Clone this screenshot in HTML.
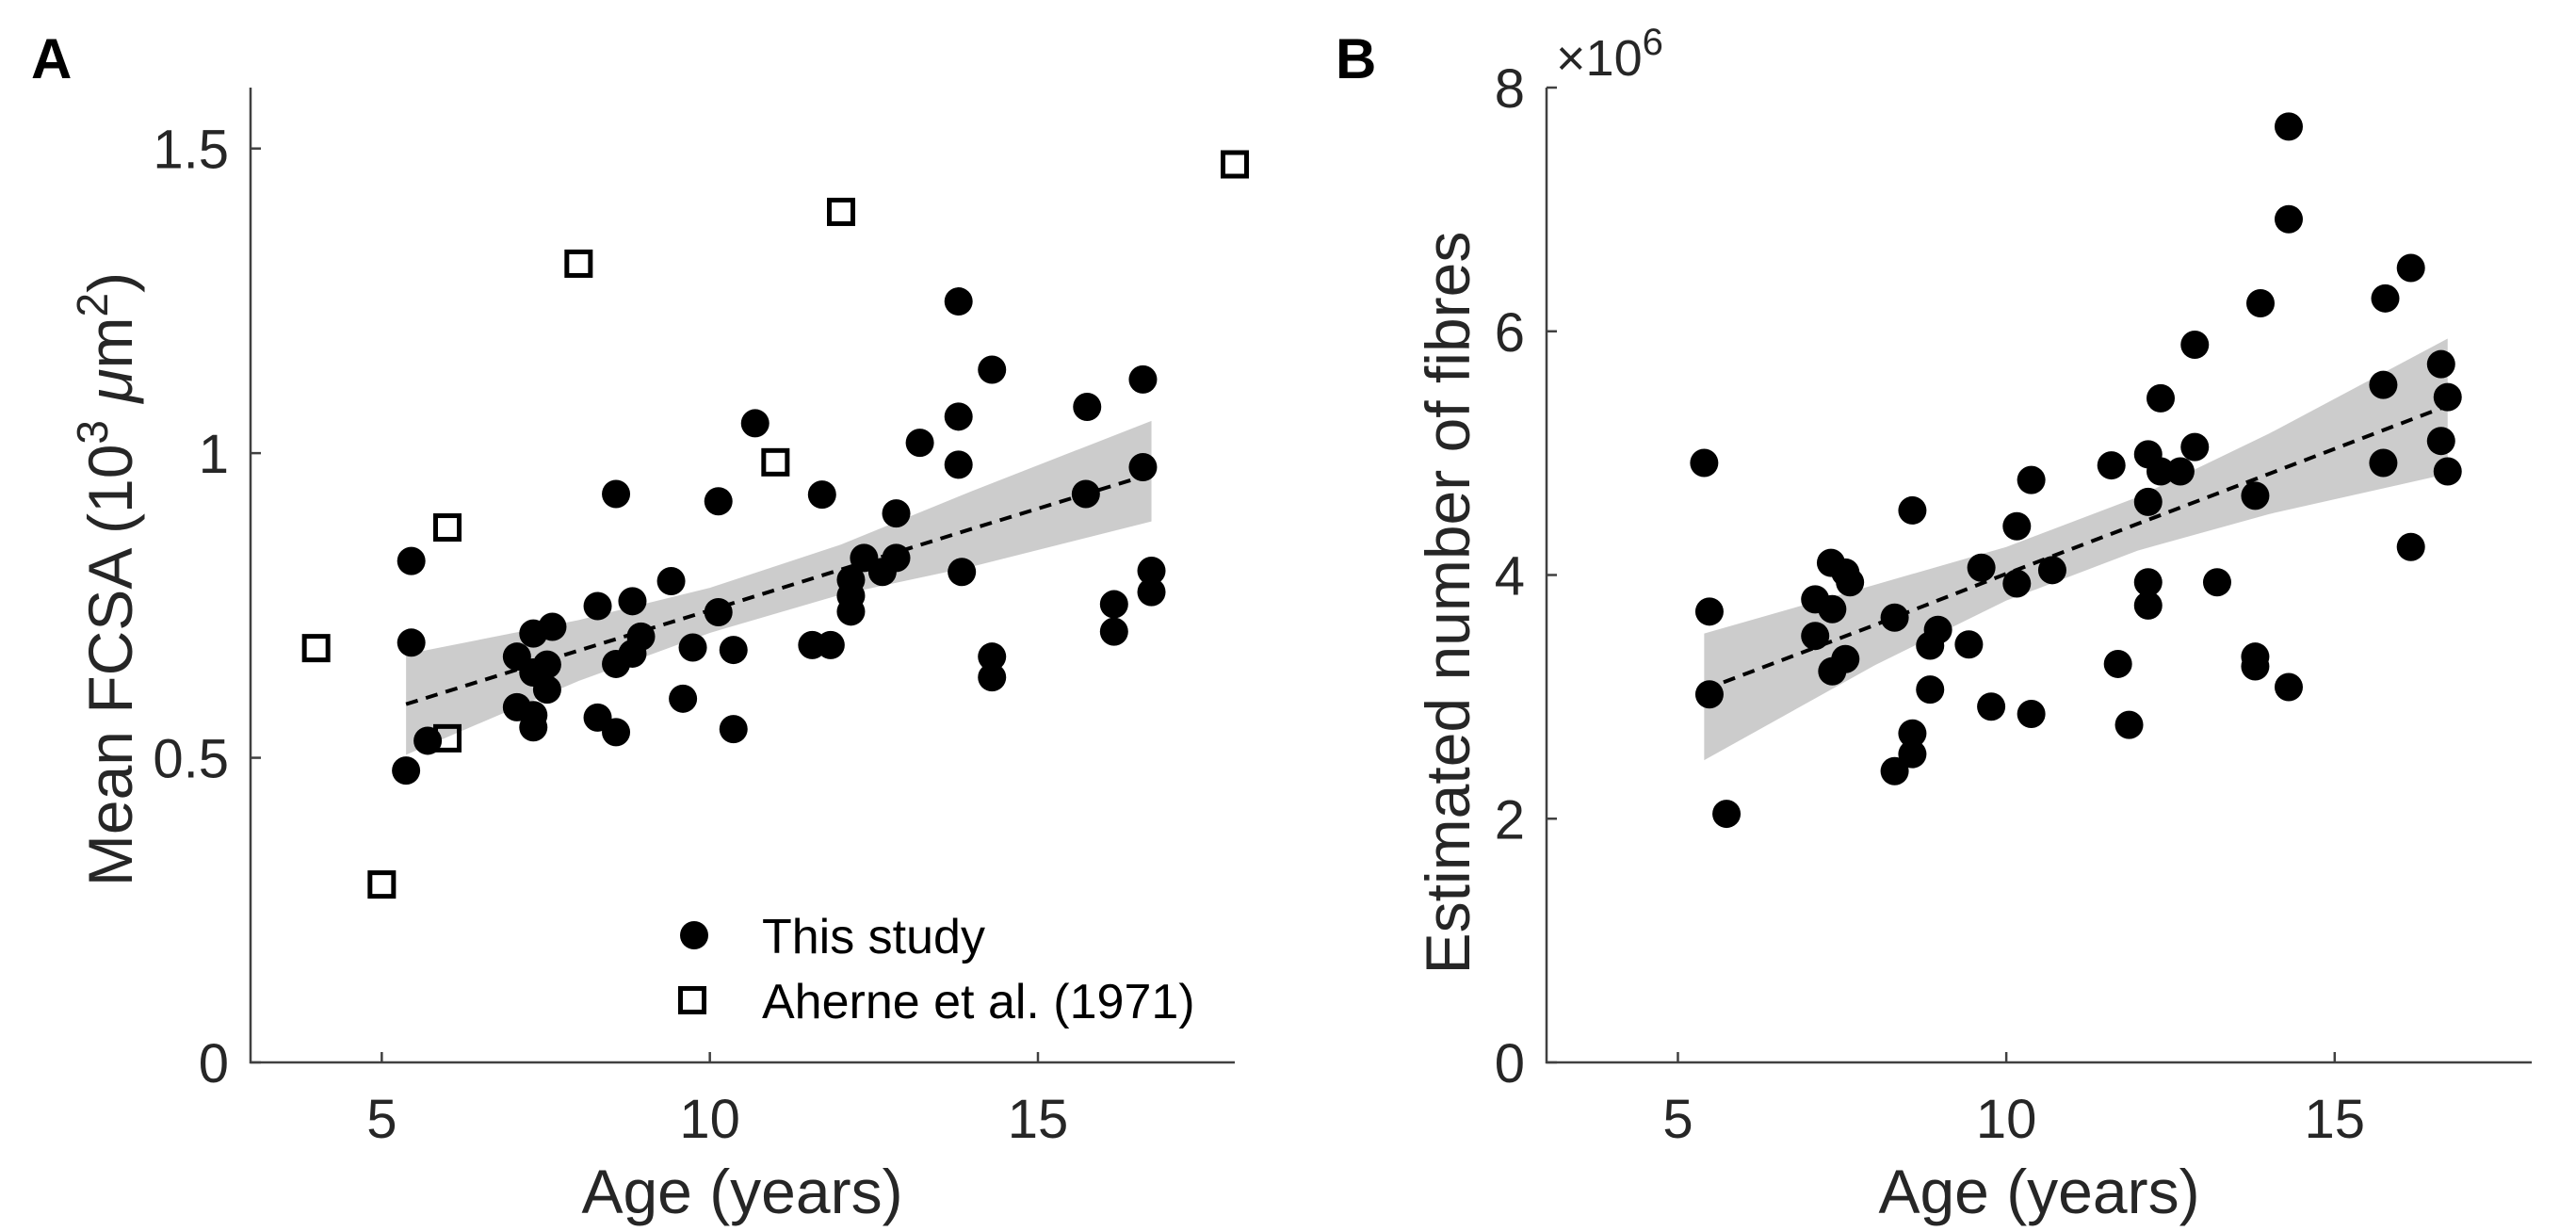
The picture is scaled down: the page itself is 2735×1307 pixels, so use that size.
<!DOCTYPE html>
<html><head><meta charset="utf-8"><style>
html,body{margin:0;padding:0;background:#fff;}
svg{display:block;font-family:"Liberation Sans",Arial,sans-serif;}
</style></head><body>
<svg id="fig" width="2735" height="1307" viewBox="0 0 2735 1307" xmlns="http://www.w3.org/2000/svg">
<text x="33" y="83" font-size="60" font-weight="bold" fill="#000">A</text>
<text x="1418" y="83" font-size="60" font-weight="bold" fill="#000">B</text>
<g id="pa"></g>
<g id="pb"></g>
<text transform="translate(140,615) rotate(-90)" text-anchor="middle" font-size="66" fill="#262626">Mean FCSA (10<tspan dy="-26" font-size="46">3</tspan><tspan dy="26"> </tspan><tspan font-style="italic">μ</tspan>m<tspan dy="-26" font-size="46">2</tspan><tspan dy="26">)</tspan></text>
<text transform="translate(1560,640) rotate(-90)" text-anchor="middle" font-size="66" fill="#262626">Estimated number of fibres</text>
<text x="788" y="1288" text-anchor="middle" font-size="66" fill="#262626">Age (years)</text>
<text x="2165" y="1288" text-anchor="middle" font-size="66" fill="#262626">Age (years)</text>
<text x="1652" y="80" font-size="54" fill="#262626">×10<tspan dy="-22" font-size="40">6</tspan></text>
</svg>
<script>
// Panel A data
const aAgeCircles=[5.37,5.45,5.45,5.70,7.06,7.06,7.31,7.31,7.31,7.31,7.52,7.52,7.60,8.29,8.29,8.57,8.57,8.57,8.82,8.82,8.95,9.41,9.59,9.74,10.13,10.13,10.36,10.36,10.69,11.56,11.71,11.84,12.15,12.15,12.15,12.35,12.63,12.84,12.84,13.20,13.79,13.79,13.79,13.84,14.30,14.30,14.30,15.75,15.73,16.16,16.16,16.60,16.60,16.73,16.73];
const aFcsaCircles=[0.479,0.823,0.689,0.528,0.666,0.583,0.704,0.640,0.570,0.550,0.653,0.612,0.715,0.749,0.566,0.933,0.654,0.542,0.757,0.671,0.699,0.790,0.597,0.681,0.921,0.739,0.677,0.547,1.049,0.685,0.932,0.685,0.792,0.766,0.740,0.828,0.805,0.828,0.901,1.017,1.249,1.060,0.981,0.805,1.137,0.666,0.632,1.076,0.933,0.752,0.707,1.121,0.977,0.807,0.772];
const aAgeSquares=[4,5,6,6,8,12,11,18];
const aFcsaSquares=[0.68,0.292,0.878,0.532,1.311,1.396,0.985,1.474];
const aFitX=[5.37,8,10,12,14,16.73];
const aFitY=[0.588,0.676,0.742,0.809,0.876,0.966];
const aBandUpper=[0.670,0.726,0.779,0.850,0.938,1.053];
const aBandLower=[0.505,0.626,0.705,0.768,0.814,0.888];
const aYTicks=[0,0.5,1,1.5];
const aYTickLabels=["0","0.5","1","1.5"];
// Panel B data
const bAge=[5.40,5.48,5.48,5.74,7.09,7.09,7.33,7.35,7.35,7.55,7.55,7.62,8.30,8.30,8.57,8.57,8.57,8.84,8.84,8.96,9.43,9.62,9.77,10.16,10.16,10.38,10.38,10.70,11.60,11.70,11.87,12.16,12.16,12.16,12.16,12.35,12.35,12.65,12.87,12.87,13.21,13.79,13.79,13.79,13.87,14.30,14.30,14.30,15.77,15.74,15.74,16.16,16.16,16.62,16.62,16.72,16.72];
const bFibres=[4.92,3.70,3.02,2.04,3.80,3.50,4.10,3.72,3.21,4.02,3.31,3.94,3.65,2.39,4.53,2.70,2.53,3.42,3.06,3.55,3.43,4.06,2.92,4.40,3.93,4.78,2.86,4.04,4.90,3.27,2.77,4.99,4.60,3.94,3.75,5.45,4.85,4.85,5.89,5.05,3.94,4.65,3.33,3.25,6.23,7.68,6.92,3.08,6.27,5.56,4.92,6.52,4.23,5.73,5.10,5.46,4.85];
const bFitX=[5.4,8,10,12,14,16.72];
const bFitY=[3.06,3.59,4.01,4.42,4.83,5.39];
const bBandUpper=[3.52,3.92,4.23,4.64,5.16,5.94];
const bBandLower=[2.48,3.26,3.79,4.20,4.50,4.83];
const bYTicks=[0,2,4,6,8];
const bYTickLabels=["0","2","4","6","8"];
const xTicks=[5,10,15];
const xTickLabels=["5","10","15"];

const NS="http://www.w3.org/2000/svg";
function mk(parent,tag,attrs){const e=document.createElementNS(NS,tag);for(const k in attrs)e.setAttribute(k,attrs[k]);parent.appendChild(e);return e;}

function panel(g,cfg){
  const sx=v=>cfg.x0+(v-3)/(18-3)*(cfg.x1-cfg.x0);
  const sy=v=>cfg.yb-(v-0)/(cfg.ymax)*(cfg.yb-cfg.yt);
  let d="";
  cfg.fx.forEach((x,i)=>{d+=(i?"L":"M")+sx(x)+","+sy(cfg.bu[i]);});
  for(let i=cfg.fx.length-1;i>=0;i--)d+="L"+sx(cfg.fx[i])+","+sy(cfg.bl[i]);
  const band=mk(g,"path",{d:d+"Z",fill:"#cccccc",stroke:"none"});
  
  
  let ld="";
  cfg.fx.forEach((x,i)=>{ld+=(i?"L":"M")+sx(x)+","+sy(cfg.fy[i]);});
  const fit=mk(g,"path",{d:ld,fill:"none",stroke:"#000","stroke-width":4,"stroke-dasharray":"13 9"});
  
  
  cfg.cx.forEach((x,i)=>{
    const c=mk(g,"circle",{cx:sx(x),cy:sy(cfg.cy[i]),r:15,fill:"#000"});
    
    
  });
  (cfg.sqx||[]).forEach((x,i)=>{
    const s=mk(g,"rect",{x:sx(x)-12.5,y:sy(cfg.sqy[i])-12.5,width:25,height:25,fill:"none",stroke:"#000","stroke-width":5});
    
    
  });
  const ax=mk(g,"path",{d:`M${cfg.x0},${cfg.yt}L${cfg.x0},${cfg.yb}L${cfg.x1},${cfg.yb}`,fill:"none",stroke:"#404040","stroke-width":2.5});
  
  
  xTicks.forEach((t,i)=>{
    const tk=mk(g,"line",{x1:sx(t),x2:sx(t),y1:cfg.yb,y2:cfg.yb-11,stroke:"#404040","stroke-width":2.5});
    
    
    const tl=mk(g,"text",{x:sx(t),y:1208,"text-anchor":"middle","font-size":58,fill:"#262626"});
    tl.textContent=xTickLabels[i];
    
    
  });
  cfg.yt_.forEach((t,i)=>{
    const tk=mk(g,"line",{x1:cfg.x0,x2:cfg.x0+11,y1:sy(t),y2:sy(t),stroke:"#404040","stroke-width":2.5});
    
    
    const tl=mk(g,"text",{x:cfg.x0-23,y:sy(t)+21,"text-anchor":"end","font-size":58,fill:"#262626"});
    tl.textContent=cfg.ytl[i];
    
    
  });
}
panel(document.getElementById('pa'),{x0:266,x1:1311,yt:93,yb:1128,ymax:1.6,cx:aAgeCircles,cy:aFcsaCircles,sqx:aAgeSquares,sqy:aFcsaSquares,fx:aFitX,fy:aFitY,bu:aBandUpper,bl:aBandLower,yt_:aYTicks,ytl:aYTickLabels});
panel(document.getElementById('pb'),{x0:1642,x1:2688,yt:93,yb:1128,ymax:8,cx:bAge,cy:bFibres,fx:bFitX,fy:bFitY,bu:bBandUpper,bl:bBandLower,yt_:bYTicks,ytl:bYTickLabels});

const pa=document.getElementById('pa');
const lg=mk(pa,"g",{});


const ld=mk(lg,"circle",{cx:737,cy:993,r:15,fill:"#000"});


const lt1=mk(lg,"text",{x:809,y:1012,"font-size":52,fill:"#000"});lt1.textContent="This study";


const ls=mk(lg,"rect",{x:722.5,y:1049.5,width:25,height:25,fill:"none",stroke:"#000","stroke-width":5});


const lt2=mk(lg,"text",{x:809,y:1081,"font-size":52,fill:"#000"});lt2.textContent="Aherne et al. (1971)";


</script>
</body></html>
